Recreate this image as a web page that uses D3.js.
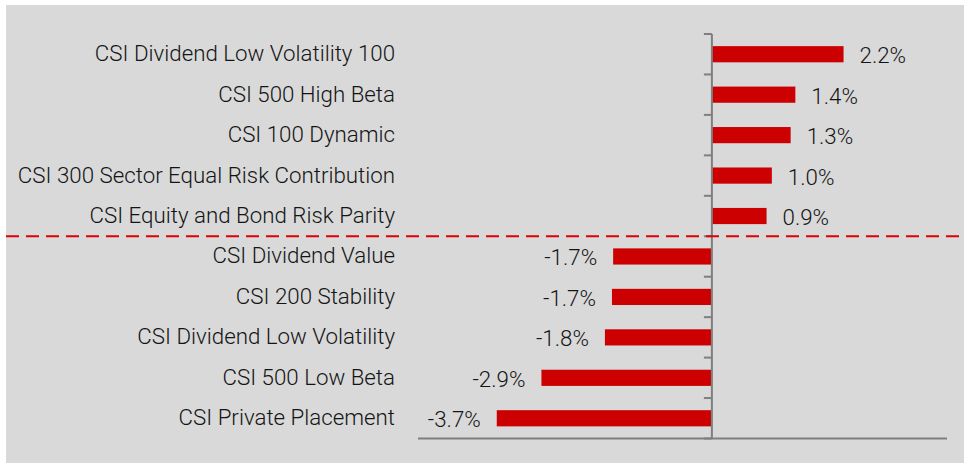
<html>
<head>
<script src="https://d3js.org/d3.v7.min.js"></script>
<style>
  body { margin: 0; background: #fff; }
  text { font-family: Roboto, "Liberation Sans", sans-serif; font-weight: 300; fill: #141414; }
</style>
</head>
<body>
<svg id="chart" width="964" height="463"></svg>
<script>
// index names, top to bottom
var categories = [
  "CSI Dividend Low Volatility 100",
  "CSI 500 High Beta",
  "CSI 100 Dynamic",
  "CSI 300 Sector Equal Risk Contribution",
  "CSI Equity and Bond Risk Parity",
  "CSI Dividend Value",
  "CSI 200 Stability",
  "CSI Dividend Low Volatility",
  "CSI 500 Low Beta",
  "CSI Private Placement"
]
// return, %
var values = [2.24, 1.42, 1.34, 1.02, 0.93, -1.68, -1.70, -1.82, -2.90, -3.66]
var xDomain = [-5, 4]
var splitAfter = 5   // dashed line between winners and losers

var svg = d3.select("#chart")

svg.append("rect")
  .attr("x", 6).attr("y", 5)
  .attr("width", 958).attr("height", 458)
  .attr("fill", "#d9d9d9")

var x = d3.scaleLinear().domain(xDomain).range([418, 947])
var y = d3.scaleBand().domain(categories).range([34, 438.5])
  .paddingInner(0.6).paddingOuter(0.3)

// bars
svg.append("g")
  .selectAll("rect")
  .data(values)
  .enter()
  .append("rect")
    .attr("x", function(d) { return Math.min(x(0), x(d)) })
    .attr("y", function(d, i) { return y(categories[i]) })
    .attr("width", function(d) { return Math.abs(x(d) - x(0)) })
    .attr("height", y.bandwidth())
    .attr("fill", "#cc0000")

// value labels
svg.append("g")
  .selectAll("text")
  .data(values)
  .enter()
  .append("text")
    .attr("x", function(d) { return d >= 0 ? x(d) + 16 : x(d) - 16 })
    .attr("y", function(d, i) { return y(categories[i]) + y.bandwidth() / 2 + 1 })
    .attr("text-anchor", function(d) { return d >= 0 ? "start" : "end" })
    .attr("dominant-baseline", "central")
    .style("font-size", "22.3px")
    .text(function(d) { return d.toFixed(1) + "%" })

// category labels
svg.append("g")
  .selectAll("text")
  .data(categories)
  .enter()
  .append("text")
    .attr("x", 395)
    .attr("y", function(d) { return y(d) + y.bandwidth() / 2 - 1 })
    .attr("text-anchor", "end")
    .attr("dominant-baseline", "central")
    .style("font-size", "22.3px")
    .text(function(d) { return d })

// axes
var step = y.step()
var y0 = y.range()[0]
var bounds = d3.range(categories.length + 1).map(function(i) { return y0 + i * step })

var axis = svg.append("g").attr("stroke", "#7f7f7f").attr("stroke-width", 2)
axis.append("line")
  .attr("x1", x(0)).attr("x2", x(0))
  .attr("y1", bounds[0]).attr("y2", bounds[bounds.length - 1])
axis.selectAll(".tick")
  .data(bounds)
  .enter()
  .append("line")
    .attr("x1", x(0) - 8).attr("x2", x(0))
    .attr("y1", function(d) { return d }).attr("y2", function(d) { return d })
axis.append("line")
  .attr("x1", x.range()[0]).attr("x2", x.range()[1])
  .attr("y1", bounds[bounds.length - 1]).attr("y2", bounds[bounds.length - 1])

// separator
svg.append("line")
  .attr("x1", 6).attr("x2", 964)
  .attr("y1", bounds[splitAfter]).attr("y2", bounds[splitAfter])
  .attr("stroke", "#e00000")
  .attr("stroke-width", 2)
  .attr("stroke-dasharray", "13,7")
</script>
</body>
</html>
